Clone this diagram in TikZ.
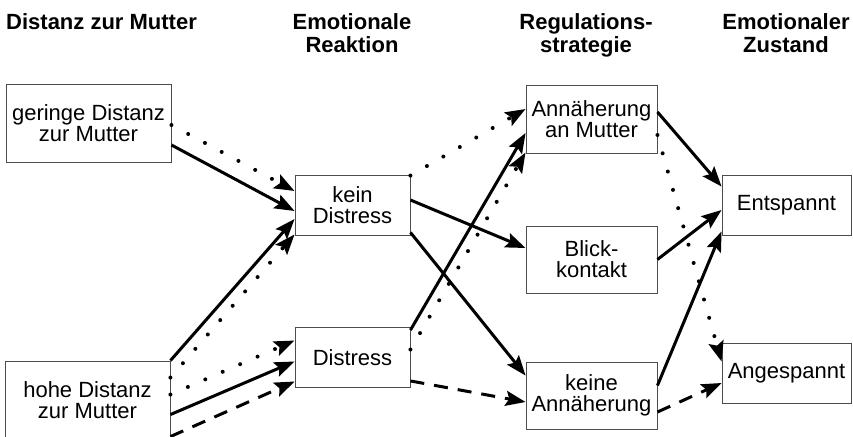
\documentclass[tikz,border=0pt]{standalone}
\usepackage{fontspec}
\setmainfont{Liberation Sans}
\usetikzlibrary{arrows.meta,calc}
\begin{document}
\begin{tikzpicture}[x=1pt,y=-1pt,
 box/.style={draw=black!70,line width=0.9pt,inner sep=0pt,align=center,font=\fontsize{22}{21}\selectfont},
 hdr/.style={inner sep=0pt,align=center,font=\bfseries\fontsize{22}{23}\selectfont},
 link/.style={line width=3pt,-{Stealth[length=20pt,width=15pt,inset=3.5pt]}},
 dotlink/.style={link,line cap=round,dash pattern=on 0pt off 19pt,line width=4pt},
 dashlink/.style={link,dash pattern=on 14pt off 10pt}]
\clip (0,0) rectangle (853,436);
% headers
\node[hdr,anchor=north west] (h1) at (6,13) {Distanz zur Mutter};
\node[hdr,anchor=north] (h2) at (352,13) {Emotionale\\Reaktion};
\node[hdr,anchor=north] (h3) at (586,13) {Regulations-\\strategie};
\node[hdr,anchor=north] (h4) at (786,13) {Emotionaler\\Zustand};
% boxes
\node[box,minimum width=165pt,minimum height=78pt] (G) at (88.5,123) {geringe Distanz\\zur Mutter};
\node[box,minimum width=165pt,minimum height=79pt] (H) at (87.5,400.5) {hohe Distanz\\zur Mutter};
\node[box,minimum width=115pt,minimum height=60pt] (kD) at (352.5,205) {kein\\Distress};
\node[box,minimum width=115pt,minimum height=60pt] (D) at (352.5,357.5) {Distress};
\node[box,minimum width=131pt,minimum height=68pt] (AnM) at (591.5,119) {Annäherung\\an Mutter};
\node[box,minimum width=131pt,minimum height=67pt] (BK) at (591.5,259.5) {Blick-\\kontakt};
\node[box,minimum width=131pt,minimum height=67pt] (kA) at (591.5,395.5) {keine\\Annäherung};
\node[box,minimum width=129pt,minimum height=60pt] (Ent) at (786.5,205) {Entspannt};
\node[box,minimum width=129pt,minimum height=60pt] (Ang) at (786.5,373) {Angespannt};
% connectors: distance -> reaction
\draw[dotlink] ($(G.east)+(0,2)$) -- ($(kD.west)+(0,-14)$);
\draw[link] ($(G.east)+(0,22)$) -- ($(kD.west)+(0,6)$);
\draw[link] (H.north east) -- ($(kD.west)+(0,14)$);
\draw[dotlink] ($(H.north east)+(0,17)$) -- ($(kD.south west)+(0,-1)$);
\draw[dotlink] ($(H.north east)+(0,34)$) -- ($(D.west)+(0,-17)$);
\draw[link] ($(H.north east)+(0,54)$) -- ($(D.west)+(0,4)$);
\draw[dashlink] ($(H.north east)+(0,76)$) -- ($(D.west)+(0,24)$);
% reaction -> strategy
\draw[dotlink] ($(kD.north east)+(0,1)$) -- ($(AnM.west)+(0,-10)$);
\draw[link] ($(kD.east)+(0,-5)$) -- ($(BK.west)+(0,-11.5)$);
\draw[link] ($(kD.south east)+(0,-3)$) -- ($(kA.north west)+(0,14)$);
\draw[link] ($(D.north east)+(0,3)$) -- ($(AnM.west)+(0,14)$);
\draw[dotlink] ($(D.east)+(0,-8)$) -- ($(AnM.south west)+(0,-1)$);
\draw[dashlink] ($(D.south east)+(0,-7)$) -- ($(kA.west)+(0,6.5)$);
% strategy -> state
\draw[link] ($(AnM.east)+(0,-7)$) -- ($(Ent.north west)+(0,12)$);
\draw[dotlink] ($(AnM.east)+(0,16)$) -- ($(Ang.north west)+(0,19)$);
\draw[link] (BK.east) -- ($(Ent.west)+(0,5)$);
\draw[link] ($(kA.east)+(0,-10)$) -- ($(Ent.south west)+(0,-4)$);
\draw[dashlink] ($(kA.east)+(0,16.5)$) -- ($(Ang.west)+(0,10)$);
\end{tikzpicture}
\end{document}
